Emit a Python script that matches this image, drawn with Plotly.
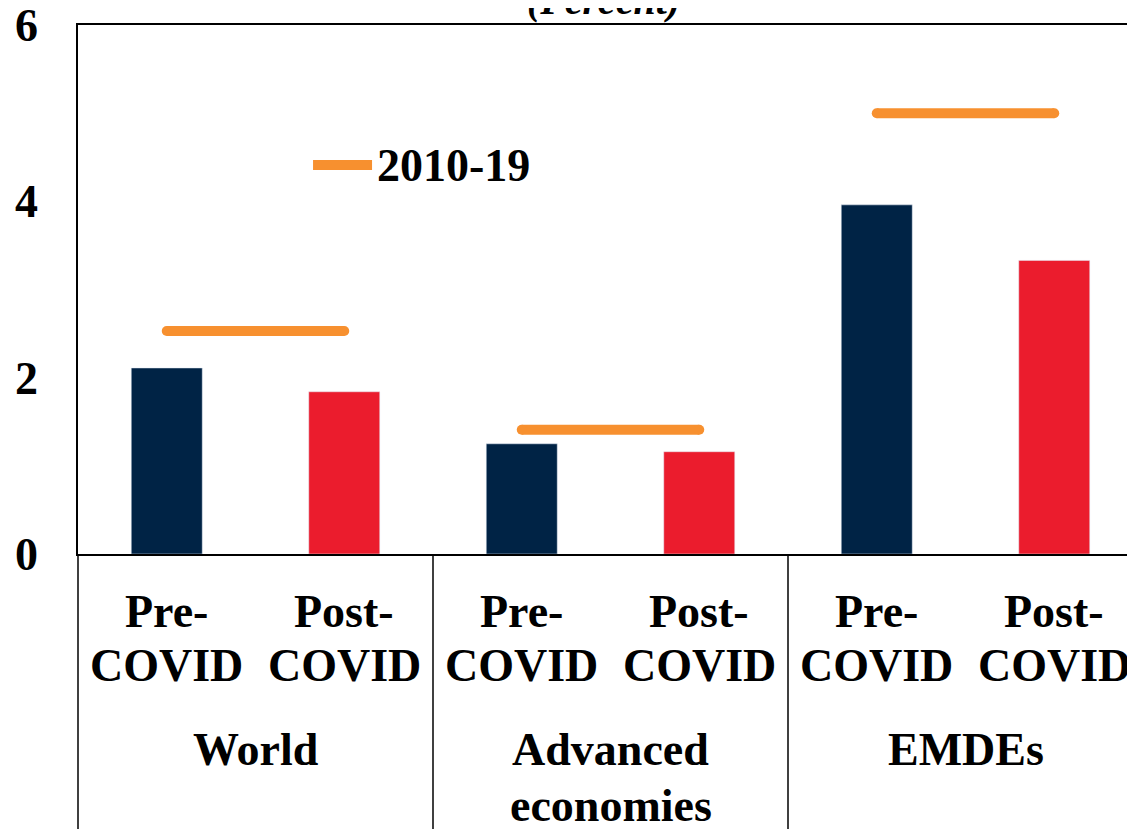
import plotly.graph_objects as go

groups = ["World", "Advanced economies", "EMDEs"]
periods = ["Pre-COVID", "Post-COVID"]
pre_covid = [2.11, 1.25, 3.96]
post_covid = [1.84, 1.16, 3.33]
avg_2010_19 = [2.53, 1.41, 5.0]
y_ticks = [0, 2, 4, 6]

navy = "#002345"
red = "#EB1C2D"
orange = "#F7902F"
serif = "Liberation Serif"
x_range = [-0.5, 5.5]

fig = go.Figure()
fig.add_trace(go.Bar(x=[groups, [periods[0]] * 3], y=pre_covid,
                     marker_color=navy, width=0.4, showlegend=False))
fig.add_trace(go.Bar(x=[groups, [periods[1]] * 3], y=post_covid,
                     marker_color=red, width=0.4, showlegend=False))

for g, v in zip(groups, avg_2010_19):
    fig.add_trace(go.Scatter(x=[[g, g], periods], y=[v, v], mode="lines+markers",
                             line=dict(color=orange, width=10),
                             marker=dict(color=orange, size=10),
                             showlegend=False))


def dom(pos):
    # category index -> x domain fraction
    return (pos - x_range[0]) / (x_range[1] - x_range[0])


lab_font = dict(family=serif, size=46, color="black")

# category labels and group dividers drawn by hand
for gi, g in enumerate(groups):
    for pi, p in enumerate(periods):
        idx = gi * 2 + pi
        top, bottom = p.split("-")
        for text, y in [(top + "-", -0.108), (bottom, -0.210)]:
            fig.add_annotation(text="<b>" + text + "</b>", xref="x domain", yref="paper",
                               x=dom(idx), y=y, xanchor="center", yanchor="middle",
                               showarrow=False, font=lab_font)
    for wi, w in enumerate(g.split(" ")):
        fig.add_annotation(text="<b>" + w + "</b>", xref="x domain", yref="paper",
                           x=dom(gi * 2 + 0.5), y=-0.3705 - 0.104 * wi,
                           xanchor="center", yanchor="middle",
                           showarrow=False, font=lab_font)
    fig.add_shape(type="line", xref="x domain", yref="paper",
                  x0=dom(gi * 2 - 0.5), x1=dom(gi * 2 - 0.5), y0=0, y1=-0.55,
                  line=dict(color="black", width=1.5))

# legend drawn by hand (longer key than plotly's)
fig.add_shape(type="line", xref="paper", yref="paper",
              x0=0.2207, x1=0.2761, y0=0.7353, y1=0.7353,
              line=dict(color=orange, width=10))
fig.add_annotation(text="<b>2010-19</b>", xref="paper", yref="paper",
                   x=0.2789, y=0.7353, xanchor="left", yanchor="middle",
                   showarrow=False, font=lab_font)

fig.add_annotation(text="<b><i>(Percent)</i></b>", xref="paper", yref="paper",
                   x=0.493, y=1, yshift=0, xanchor="center", yanchor="bottom",
                   showarrow=False, font=dict(family=serif, size=40, color="black"))

fig.update_layout(
    width=1135, height=829,
    margin=dict(l=70, r=0, t=17, b=283, autoexpand=False),
    plot_bgcolor="white", paper_bgcolor="white",
    barmode="overlay",
    font=dict(family=serif, size=46, color="black"),
)
fig.update_xaxes(type="multicategory", range=x_range, automargin=False,
                 showline=True, linecolor="black", linewidth=1.5, mirror=True,
                 showticklabels=False, showdividers=False,
                 ticks="", showgrid=False)
fig.update_yaxes(range=[0, 6], tickvals=y_ticks,
                 ticktext=["<b>%d</b>" % t for t in y_ticks], automargin=False,
                 showline=True, linecolor="black", linewidth=1.5,
                 showgrid=False, zeroline=False, ticks="",
                 ticklabeloverflow="allow",
                 ticklabelstandoff=29, tickfont=lab_font)

fig.write_html("out.html")
